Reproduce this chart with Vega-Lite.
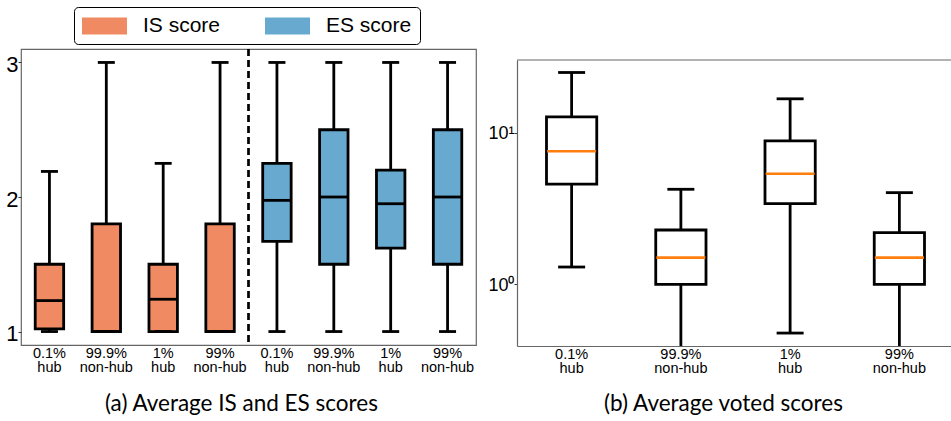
{
  "$schema": "https://vega.github.io/schema/vega-lite/v6.json",
  "padding": {"left": 5, "top": 6, "right": 0, "bottom": 0},
  "spacing": 10,
  "config": {
    "font": "Liberation Sans",
    "axis": {
      "grid": false,
      "labelColor": "black",
      "titleColor": "black",
      "labelFont": "Liberation Sans",
      "titleFont": "Lato",
      "titleFontWeight": "normal",
      "titleFontSize": 22.5
    },
    "tick": {"opacity": 1},
    "bar": {"opacity": 1}
  },
  "hconcat": [
    {
      "width": 455,
      "height": 296,
      "view": {"stroke": "#666", "strokeWidth": 1.2},
      "data": {
        "values": [
          {"score": "IS score", "box": "IS|0.1%|hub", "lower": 1.0, "q1": 1.02, "median": 1.23, "q3": 1.5, "upper": 2.19},
          {"score": "IS score", "box": "IS|99.9%|non-hub", "lower": 1.0, "q1": 1.0, "median": 1.0, "q3": 1.8, "upper": 3.0},
          {"score": "IS score", "box": "IS|1%|hub", "lower": 1.0, "q1": 1.0, "median": 1.24, "q3": 1.5, "upper": 2.25},
          {"score": "IS score", "box": "IS|99%|non-hub", "lower": 1.0, "q1": 1.0, "median": 1.0, "q3": 1.8, "upper": 3.0},
          {"score": "ES score", "box": "ES|0.1%|hub", "lower": 1.0, "q1": 1.67, "median": 1.975, "q3": 2.25, "upper": 3.0},
          {"score": "ES score", "box": "ES|99.9%|non-hub", "lower": 1.0, "q1": 1.5, "median": 2.0, "q3": 2.5, "upper": 3.0},
          {"score": "ES score", "box": "ES|1%|hub", "lower": 1.0, "q1": 1.62, "median": 1.95, "q3": 2.2, "upper": 3.0},
          {"score": "ES score", "box": "ES|99%|non-hub", "lower": 1.0, "q1": 1.5, "median": 2.0, "q3": 2.5, "upper": 3.0}
        ]
      },
      "encoding": {
        "x": {
          "field": "box",
          "type": "nominal",
          "sort": null,
          "scale": {"paddingInner": 0, "paddingOuter": 0},
          "axis": {
            "title": "(a) Average IS and ES scores",
            "labelExpr": "slice(split(datum.value, '|'), 1)",
            "labelAngle": 0,
            "ticks": false,
            "tickSize": 0,
            "domain": false,
            "labelPadding": 1,
            "labelFontSize": 14.5,
            "labelLineHeight": 14.5,
            "titleX": 220,
            "titleY": 65,
            "titleBaseline": "alphabetic"
          }
        }
      },
      "layer": [
        {
          "mark": {"type": "rule", "stroke": "black", "strokeWidth": 2.8},
          "encoding": {
            "y": {
              "field": "lower",
              "type": "quantitative",
              "scale": {"domain": [0.9, 3.1], "zero": false, "nice": false},
              "axis": {
                "title": null,
                "values": [1, 2, 3],
                "format": "d",
                "domain": false,
                "tickSize": 3,
                "tickColor": "#333",
                "labelPadding": 0,
                "labelFontSize": 22,
                "labelOffset": 2
              }
            },
            "y2": {"field": "upper"}
          }
        },
        {
          "mark": {"type": "bar", "width": {"band": 0.5}, "stroke": "black", "strokeWidth": 2.8},
          "encoding": {
            "y": {"field": "q1", "type": "quantitative"},
            "y2": {"field": "q3"},
            "fill": {
              "field": "score",
              "type": "nominal",
              "scale": {"domain": ["IS score", "ES score"], "range": ["#EF8A62", "#67A9CF"]},
              "legend": {
                "title": null,
                "orient": "none",
                "legendX": 53,
                "legendY": -42,
                "direction": "horizontal",
                "symbolType": "M-1,-0.773H3.09V0.773H-1Z",
                "symbolSize": 484,
                "symbolStrokeWidth": 0,
                "labelFontSize": 21,
                "labelFont": "Liberation Sans",
                "labelColor": "black",
                "labelOffset": 39,
                "columnPadding": 44,
                "padding": 8,
                "strokeColor": "black",
                "cornerRadius": 4,
                "encode": {"symbols": {"update": {"strokeWidth": {"value": 0}}}}
              }
            }
          }
        },
        {
          "mark": {"type": "tick", "color": "black", "size": 28, "thickness": 2.8},
          "encoding": {"y": {"field": "median", "type": "quantitative"}}
        },
        {
          "mark": {"type": "tick", "color": "black", "size": 17, "thickness": 2.8},
          "encoding": {"y": {"field": "upper", "type": "quantitative"}}
        },
        {
          "mark": {"type": "tick", "color": "black", "size": 17, "thickness": 2.8},
          "encoding": {"y": {"field": "lower", "type": "quantitative"}}
        },
        {
          "data": {"values": [{}]},
          "mark": {"type": "rule", "color": "black", "strokeWidth": 2.7, "strokeDash": [7, 4]},
          "encoding": {
            "x": {"datum": "ES|0.1%|hub", "type": "nominal", "bandPosition": 0}
          }
        }
      ]
    },
    {
      "width": 437,
      "height": 297,
      "view": {"stroke": null},
      "data": {
        "values": [
          {"box": "0.1%|hub", "lower": 1.3, "q1": 4.57, "median": 7.54, "q3": 12.7, "upper": 24.9},
          {"box": "99.9%|non-hub", "lower": 0.25, "q1": 1.0, "median": 1.5, "q3": 2.28, "upper": 4.23},
          {"box": "1%|hub", "lower": 0.477, "q1": 3.4, "median": 5.35, "q3": 8.82, "upper": 16.7},
          {"box": "99%|non-hub", "lower": 0.25, "q1": 1.0, "median": 1.5, "q3": 2.19, "upper": 4.02}
        ]
      },
      "layer": [
        {
          "mark": {"type": "rule", "stroke": "black", "strokeWidth": 2.8, "clip": true},
          "encoding": {
            "x": {
              "field": "box",
              "type": "nominal",
              "sort": null,
              "scale": {"paddingInner": 0, "paddingOuter": 0},
              "axis": {
                "title": "(b) Average voted scores",
                "labelExpr": "split(datum.value, '|')",
                "labelAngle": 0,
                "ticks": false,
                "tickSize": 0,
                "domain": true,
                "domainColor": "#666",
                "domainWidth": 1.2,
                "labelPadding": 1,
                "labelFontSize": 14.5,
                "labelLineHeight": 14.5,
                "titleX": 206,
                "titleY": 64,
                "titleBaseline": "alphabetic"
              }
            },
            "y": {
              "field": "lower",
              "type": "quantitative",
              "scale": {"type": "log", "domain": [0.392, 30.1], "nice": false, "range": [297, 11]},
              "axis": {
                "title": null,
                "values": [1, 10],
                "labelExpr": "'10' + (datum.value == 1 ? '⁰' : '¹')",
                "domain": true,
                "domainColor": "#666",
                "domainWidth": 1.2,
                "tickSize": 3,
                "tickColor": "#333",
                "labelPadding": 0,
                "labelFontSize": 18,
                "labelOffset": 1
              }
            },
            "y2": {"field": "upper"}
          }
        },
        {
          "mark": {"type": "bar", "width": {"band": 0.46}, "fill": "white", "stroke": "black", "strokeWidth": 2.8},
          "encoding": {
            "x": {"field": "box", "type": "nominal", "sort": null},
            "y": {"field": "q1", "type": "quantitative"},
            "y2": {"field": "q3"}
          }
        },
        {
          "mark": {"type": "tick", "color": "#FF7F0E", "size": 49, "thickness": 2.6},
          "encoding": {
            "x": {"field": "box", "type": "nominal", "sort": null},
            "y": {"field": "median", "type": "quantitative"}
          }
        },
        {
          "mark": {"type": "tick", "color": "black", "size": 27, "thickness": 2.8, "clip": true},
          "encoding": {
            "x": {"field": "box", "type": "nominal", "sort": null},
            "y": {"field": "upper", "type": "quantitative"}
          }
        },
        {
          "mark": {"type": "tick", "color": "black", "size": 27, "thickness": 2.8, "clip": true},
          "encoding": {
            "x": {"field": "box", "type": "nominal", "sort": null},
            "y": {"field": "lower", "type": "quantitative"}
          }
        },
        {
          "data": {"values": [{}]},
          "mark": {"type": "rule", "color": "#666", "strokeWidth": 1.2},
          "encoding": {
            "y": {"datum": 30.1, "type": "quantitative"}
          }
        }
      ]
    }
  ]
}
